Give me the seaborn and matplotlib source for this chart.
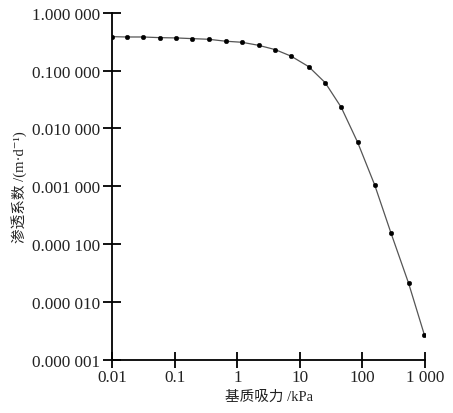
import matplotlib
matplotlib.use("Agg")
import matplotlib.pyplot as plt
import seaborn as sns
import pandas as pd

suction_kpa = [0.01, 0.017, 0.0308, 0.0582, 0.105, 0.189, 0.346, 0.655, 1.18, 2.18,
               4.03, 7.26, 13.8, 25.4, 45.8, 83.8, 157, 286, 548, 977]
conductivity = [0.385, 0.380, 0.380, 0.370, 0.366, 0.356, 0.347, 0.321, 0.308, 0.273,
                0.230, 0.177, 0.117, 0.0617, 0.0232, 0.00578, 0.00106, 1.57e-4, 2.12e-5, 2.75e-6]

x_ticks = [0.01, 0.1, 1, 10, 100, 1000]
x_ticklabels = ["0.01", "0.1", "1", "10", "100", "1 000"]
y_ticks = [1e-6, 1e-5, 1e-4, 1e-3, 1e-2, 1e-1, 1]
y_ticklabels = ["0.000 001", "0.000 010", "0.000 100", "0.001 000",
                "0.010 000", "0.100 000", "1.000 000"]

df = pd.DataFrame({"x": suction_kpa, "y": conductivity})

sns.set_theme(style="ticks")
fam = ["Liberation Serif", "Noto Sans CJK SC", "DejaVu Serif"]
plt.rcParams["font.family"] = fam

fig = plt.figure(figsize=(4.53, 4.14), dpi=100)
ax = fig.add_axes([0.248, 0.128, 0.690, 0.839])

sns.lineplot(data=df, x="x", y="y", ax=ax, color="#555555", lw=0.9)
sns.scatterplot(data=df, x="x", y="y", ax=ax, color="black", s=11, edgecolor="black",
                linewidth=0.3, zorder=3)

ax.set_xscale("log")
ax.set_yscale("log")
ax.set_xlim(0.01, 1000)
ax.set_ylim(1e-6, 1)
ax.set_xticks(x_ticks)
ax.set_xticklabels(x_ticklabels)
ax.set_yticks(y_ticks)
ax.set_yticklabels(y_ticklabels)
ax.minorticks_off()

for s in ["top", "right"]:
    ax.spines[s].set_visible(False)
for s in ["left", "bottom"]:
    ax.spines[s].set_linewidth(1.3)
    ax.spines[s].set_color("black")
    ax.spines[s].set_clip_on(False)

ax.tick_params(axis="y", direction="inout", length=13, width=1.3, labelsize=12.3,
               colors="black", pad=2)
ax.tick_params(axis="x", direction="inout", length=11, width=1.3, labelsize=12.3,
               colors="black", pad=1)
for lab in ax.get_xticklabels() + ax.get_yticklabels():
    lab.set_color("#222222")

ax.set_xlabel("基质吸力 /kPa", fontsize=10.5, family=fam, color="#222222", labelpad=3)
ax.set_ylabel("渗透系数 /(m·d⁻¹)", fontsize=10.5, family=fam, color="#222222", labelpad=4)

fig.savefig("out.png", dpi=100)
